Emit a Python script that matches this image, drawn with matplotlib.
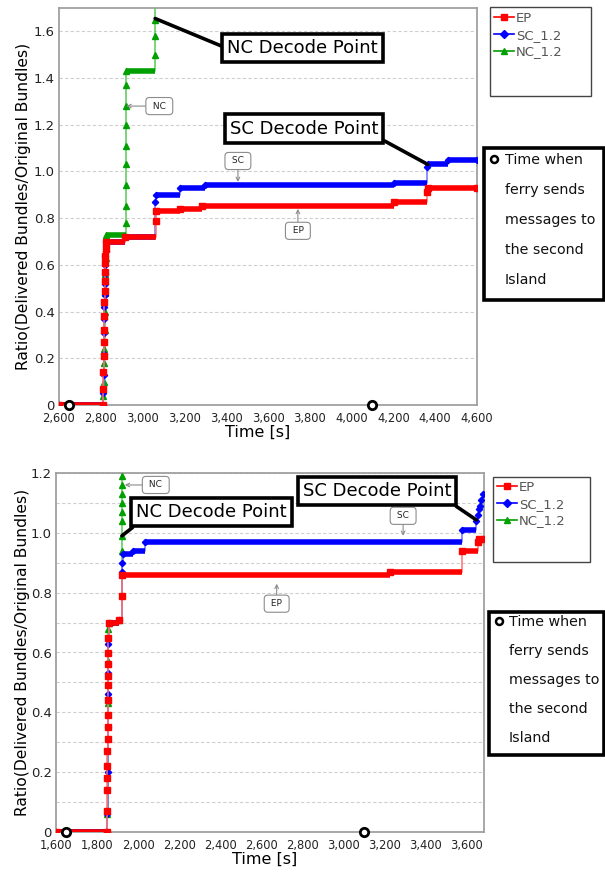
import matplotlib
matplotlib.use('Agg')
import matplotlib.pyplot as plt
import numpy as np
from matplotlib.lines import Line2D
from matplotlib.patches import Rectangle
from matplotlib.ticker import FuncFormatter, MultipleLocator

plt.rcParams['font.family'] = ['DejaVu Sans']

# ---------------- data: top chart ----------------
top_ep_t = [2600, 2810, 2811, 2812, 2813, 2814, 2815, 2816, 2817, 2818, 2819, 2820, 2821, 2822, 2823, 2825,
            2918, 3062, 3065, 3180, 3285, 4205, 4362, 4366, 4600]
top_ep_y = [0, 0, 0.07, 0.14, 0.21, 0.27, 0.32, 0.38, 0.44, 0.49, 0.53, 0.57, 0.61, 0.64, 0.67, 0.70,
            0.72, 0.79, 0.83, 0.84, 0.85, 0.87, 0.91, 0.93, 0.93]
top_sc_t = [2600, 2810, 2812, 2813, 2814, 2815, 2816, 2817, 2818, 2819, 2820, 2821, 2822, 2823, 2824, 2826,
            2918, 3060, 3063, 3180, 3300, 4205, 4362, 4366, 4460, 4600]
top_sc_y = [0, 0, 0.05, 0.13, 0.22, 0.31, 0.37, 0.42, 0.47, 0.52, 0.56, 0.60, 0.64, 0.66, 0.68, 0.70,
            0.72, 0.87, 0.90, 0.93, 0.94, 0.95, 1.02, 1.03, 1.05, 1.05]
top_nc_t = [2600, 2810, 2812, 2814, 2815, 2816, 2818, 2819, 2820, 2821, 2823, 2826,
            2920, 2920, 2920, 2920, 2920, 2920, 2920, 2920, 2922, 3060, 3060, 3060, 3060]
top_nc_y = [0, 0, 0.04, 0.10, 0.18, 0.24, 0.32, 0.40, 0.48, 0.56, 0.63, 0.73,
            0.78, 0.85, 0.94, 1.03, 1.11, 1.20, 1.28, 1.37, 1.43, 1.50, 1.58, 1.65, 1.73]
top_ferry_t = [2650, 4100]

# ---------------- data: bottom chart ----------------
bot_ep_t = [1600, 1847, 1848, 1849, 1849, 1850, 1850, 1851, 1851, 1852, 1852, 1853, 1853, 1854, 1854, 1855,
            1856, 1905, 1921, 1923, 3225, 3578, 3656, 3660, 3685]
bot_ep_y = [0, 0, 0.07, 0.14, 0.18, 0.22, 0.27, 0.31, 0.35, 0.39, 0.44, 0.49, 0.52, 0.56, 0.60, 0.65,
            0.70, 0.71, 0.79, 0.86, 0.87, 0.94, 0.97, 0.98, 0.98]
bot_sc_t = [1600, 1847, 1849, 1851, 1852, 1853, 1854, 1855, 1856, 1905, 1921, 1922, 1924, 1975, 2033, 3578,
            3648, 3654, 3660, 3666, 3672, 3678]
bot_sc_y = [0, 0, 0.06, 0.20, 0.35, 0.46, 0.53, 0.63, 0.70, 0.71, 0.87, 0.90, 0.93, 0.94, 0.97, 1.01,
            1.04, 1.06, 1.08, 1.09, 1.11, 1.13]
bot_nc_t = [1600, 1847, 1849, 1852, 1854, 1855, 1856, 1905, 1921, 1921, 1921, 1921, 1921, 1921, 1921, 1921,
            1921]
bot_nc_y = [0, 0, 0.06, 0.43, 0.57, 0.68, 0.70, 0.71, 0.94, 0.99, 1.04, 1.07, 1.10, 1.13, 1.16, 1.19, 1.23]
bot_ferry_t = [1650, 3100]

series_labels = ['EP', 'SC_1.2', 'NC_1.2']
ferry_lines = ['Time when', 'ferry sends', 'messages to', 'the second', 'Island']

RED, RED_L = '#FF0000', '#FF7070'
BLUE, BLUE_L = '#0000FF', '#7070FF'
GREEN, GREEN_L = '#00A000', '#55CC55'

W, H = 605, 872
fig = plt.figure(figsize=(W / 100, H / 100), dpi=100)


def rect(l, t, r, b):
    return [l / W, 1 - b / H, (r - l) / W, (b - t) / H]


ax1 = fig.add_axes(rect(59, 8, 477, 405))
ax2 = fig.add_axes(rect(56, 473, 484, 832))


def draw_series(ax, t, y, color, lcolor, marker, ms, z):
    t = np.asarray(t, float)
    y = np.asarray(y, float)
    ax.plot(t, y, drawstyle='steps-post', color=lcolor, lw=1.1, zorder=z)
    ax.hlines(y[:-1], t[:-1], t[1:], color=color, lw=4, zorder=z + 0.1)
    ax.plot(t, y, ls='none', marker=marker, ms=ms, color=color, mec=color, zorder=z + 0.2)


def style_axes(ax, xlo, xhi, ylo, yhi, minor):
    ax.set_xlim(xlo, xhi)
    ax.set_ylim(ylo, yhi)
    ax.xaxis.set_major_locator(MultipleLocator(200))
    ax.yaxis.set_major_locator(MultipleLocator(0.2))
    if minor:
        ax.yaxis.set_minor_locator(MultipleLocator(0.1))
        ax.yaxis.grid(True, which='both', ls=(0, (3, 2)), color='#CFCFCF', lw=0.8)
    else:
        ax.yaxis.grid(True, which='major', ls=(0, (3, 2)), color='#CFCFCF', lw=0.8)
    ax.set_axisbelow(True)
    ax.xaxis.set_major_formatter(FuncFormatter(lambda v, p: f'{int(round(v)):,}'))
    ax.yaxis.set_major_formatter(FuncFormatter(lambda v, p: '0' if abs(v) < 1e-9 else f'{v:.1f}'))
    ax.tick_params(axis='x', length=0, labelsize=8.3, pad=5, colors='#222222')
    ax.tick_params(axis='y', which='both', length=0, labelsize=9.5, pad=3, colors='#222222')
    for s in ax.spines.values():
        s.set_color('#A0A0A0')
        s.set_linewidth(1.3)
    ax.set_xlabel('Time [s]', fontsize=11.5)
    ax.set_ylabel('Ratio(Delivered Bundles/Original Bundles)', fontsize=11.2)


# ---- top chart ----
draw_series(ax1, top_nc_t, top_nc_y, GREEN, GREEN_L, '^', 4, 3)
draw_series(ax1, top_sc_t, top_sc_y, BLUE, BLUE_L, 'D', 3.2, 4)
draw_series(ax1, top_ep_t, top_ep_y, RED, RED_L, 's', 4.2, 5)
ax1.plot(top_ferry_t, [0] * len(top_ferry_t), ls='none', marker='o', ms=6, mfc='white', mec='black',
         mew=2, clip_on=False, zorder=10)
style_axes(ax1, 2600, 4600, 0, 1.7, False)
ax1.xaxis.set_label_coords(0.476, -0.05)
ax1.yaxis.set_label_coords(-0.066, 0.5)

# ---- bottom chart ----
draw_series(ax2, bot_nc_t, bot_nc_y, GREEN, GREEN_L, '^', 4, 3)
draw_series(ax2, bot_sc_t, bot_sc_y, BLUE, BLUE_L, 'D', 3.2, 4)
draw_series(ax2, bot_ep_t, bot_ep_y, RED, RED_L, 's', 4.2, 5)
ax2.plot(bot_ferry_t, [0] * len(bot_ferry_t), ls='none', marker='o', ms=6, mfc='white', mec='black',
         mew=2, clip_on=False, zorder=10)
style_axes(ax2, 1600, 3685, 0, 1.2, True)
ax2.xaxis.set_label_coords(0.488, -0.055)
ax2.yaxis.set_label_coords(-0.061, 0.5)


# ---- callouts ----
def callout(ax, text, xy, off):
    ax.annotate(text, xy=xy, xytext=off, textcoords='offset pixels', ha='center', va='center',
                fontsize=6.5, color='#222222', zorder=20,
                bbox=dict(boxstyle='round,pad=0.45,rounding_size=0.4', fc='white', ec='#8C8C8C', lw=0.8),
                arrowprops=dict(arrowstyle='->', color='#8C8C8C', lw=0.8, shrinkA=0, shrinkB=0))


def decode(ax, text, xy, xytext, relpos):
    ax.annotate(text, xy=xy, xytext=xytext, textcoords='data', ha='center', va='center',
                fontsize=13, zorder=25,
                bbox=dict(boxstyle='square,pad=0.28', fc='white', ec='black', lw=2.6),
                arrowprops=dict(arrowstyle='-', color='black', lw=2.6, shrinkA=0, shrinkB=0,
                                relpos=relpos))


callout(ax1, ' NC ', (2922, 1.28), (33, 0))
callout(ax1, ' SC ', (3456, 0.955), (0, 21))
callout(ax1, ' EP ', (3743, 0.84), (0, -22))
decode(ax1, 'NC Decode Point', (3060, 1.655), (3765, 1.527), (0, 0.5))
decode(ax1, 'SC Decode Point', (4365, 1.03), (3772, 1.184), (1, 0))

callout(ax2, ' NC ', (1935, 1.16), (31, 0))
callout(ax2, ' SC ', (3291, 0.99), (0, 20))
callout(ax2, ' EP ', (2675, 0.83), (0, -20))
decode(ax2, 'NC Decode Point', (1921, 0.99), (2357, 1.069), (0.03, 0))
decode(ax2, 'SC Decode Point', (3648, 1.043), (3164, 1.14), (0.97, 0))

# ---- legends ----
handles = [Line2D([], [], color=RED, marker='s', ms=5, lw=1.2),
           Line2D([], [], color=BLUE, marker='D', ms=4, lw=1.2),
           Line2D([], [], color=GREEN, marker='^', ms=5, lw=1.2)]


def legend_block(l, t, r, b, lx, ly):
    fig.add_artist(Rectangle((l / W, 1 - b / H), (r - l) / W, (b - t) / H, transform=fig.transFigure,
                             fill=False, ec='#444444', lw=1))
    fig.legend(handles, series_labels, loc='upper left', bbox_to_anchor=(lx / W, 1 - ly / H),
               bbox_transform=fig.transFigure, frameon=False, fontsize=9.5, handlelength=1.5,
               handletextpad=0.15, labelspacing=0.28, borderpad=0, borderaxespad=0,
               labelcolor='#555555')


def ferry_block(l, t, r, b, cx, cy, tx, ty0, dy):
    fig.add_artist(Rectangle((l / W, 1 - b / H), (r - l) / W, (b - t) / H, transform=fig.transFigure,
                             fill=False, ec='black', lw=2.6))
    fig.add_artist(Line2D([cx / W], [1 - cy / H], marker='o', ms=5, mfc='white', mec='black', mew=1.8,
                          ls='none', transform=fig.transFigure))
    for i, s in enumerate(ferry_lines):
        fig.text(tx / W, 1 - (ty0 + i * dy) / H, s, fontsize=10.3, va='center', ha='left', color='#111111')


legend_block(490, 7, 591, 96, 494, 12)
ferry_block(484, 148, 604, 300, 494, 159, 505, 160, 30)
legend_block(493, 477, 590, 562, 497, 481)
ferry_block(489, 612, 604, 755, 499, 621, 509, 622, 29)

fig.savefig('out.png', dpi=100)
